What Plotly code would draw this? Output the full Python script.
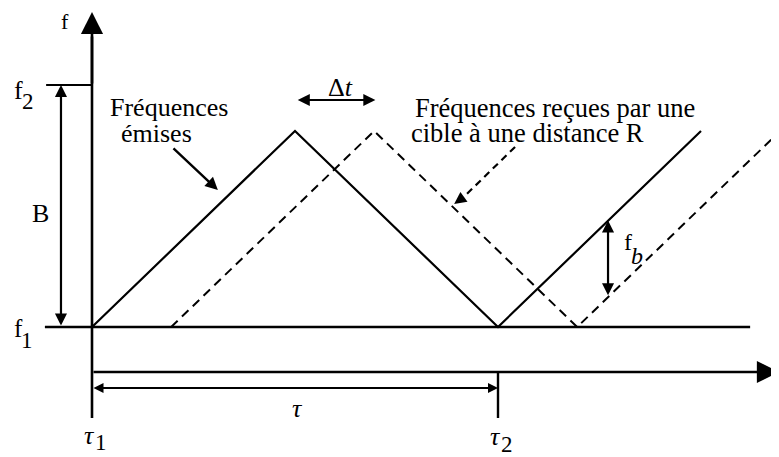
import plotly.graph_objects as go

# Units: time in periods (tau1 = 0, tau2 = 1), frequency normalised (f1 = 0, f2 = 1)
t_emit = [0.0, 0.5, 1.0, 1.5]
f_emit = [0.0, 0.81, 0.0, 0.81]

t_recv = [0.195, 0.695, 1.195, 1.695]
f_recv = [0.0, 0.81, 0.0, 0.81]

# beat frequency read at this instant, between the two ramps
t_beat = 1.271
f_beat = [0.44, 0.125]

# delay arrow between the two peaks
t_delta = [0.503, 0.698]
f_delta = 0.938

t_axis_y = -0.186
tau_arrow_y = -0.252
tick_bottom = -0.376
B_x = -0.0764

FONT = "'Liberation Serif', 'DejaVu Serif', serif"

# page body has an 8px margin, so the figure starts 8px in
PX_T, PX_F = 406, 242
X0, Y0 = 92, 327
OFF = 8

fig = go.Figure()

# emitted ramp (solid) and received ramp (dashed)
fig.add_trace(go.Scatter(x=t_emit, y=f_emit, mode='lines',
                         line=dict(color='black', width=2.2)))
fig.add_trace(go.Scatter(x=t_recv, y=f_recv, mode='lines',
                         line=dict(color='black', width=2, dash='9px,6px')))

# f1 baseline, f2 tick, tau2 tick, lower part of the f axis
fig.add_trace(go.Scatter(x=[-0.116, 1.621], y=[0, 0], mode='lines',
                         line=dict(color='black', width=2.4)))
fig.add_trace(go.Scatter(x=[-0.113, 0], y=[1, 1], mode='lines',
                         line=dict(color='black', width=2.2)))
fig.add_trace(go.Scatter(x=[1, 1], y=[t_axis_y, tick_bottom], mode='lines',
                         line=dict(color='black', width=2.4)))
fig.add_trace(go.Scatter(x=[0, 0], y=[1.2, tick_bottom], mode='lines',
                         line=dict(color='black', width=2.6)))

# dashed pointer to the received ramp
fig.add_trace(go.Scatter(x=[1.042, 0.905], y=[0.744, 0.52], mode='lines',
                         line=dict(color='black', width=2.2, dash='7px,5px')))

arrows = [
    # (tip_t, tip_f, tail_t, tail_f, both_ends, width, size)
    (0, 1.302, 0, 1.0, False, 2.6, 1.7),          # f axis
    (1.692, t_axis_y, 0, t_axis_y, False, 2.6, 1.7),  # t axis
    (1, tau_arrow_y, 0, tau_arrow_y, True, 2, 1.0),   # tau
    (B_x, 1, B_x, 0, True, 2.2, 1.1),              # B
    (t_delta[1], f_delta, t_delta[0], f_delta, True, 2.2, 1.1),  # delta t
    (t_beat, f_beat[0], t_beat, f_beat[1], True, 2.2, 1.1),      # f_b
    (0.310, 0.566, 0.197, 0.744, False, 2.4, 1.05),  # pointer to emitted
    (0.892, 0.508, 0.915, 0.536, False, 2.2, 1.1),   # head of dashed pointer
]

annotations = []
for tip_t, tip_f, tail_t, tail_f, both, w, s in arrows:
    annotations.append(dict(
        x=tip_t, y=tip_f, ax=tail_t, ay=tail_f,
        xref='x', yref='y', axref='x', ayref='y',
        text='', showarrow=True, arrowhead=2, startarrowhead=2,
        arrowside='end+start' if both else 'end',
        arrowwidth=w, arrowsize=s, startarrowsize=s,
        arrowcolor='black', standoff=0, startstandoff=0,
    ))

labels = [
    # (t, f, text, size, italic, xanchor)
    (-0.066, 1.262, 'f', 22, False, 'center'),
    (-0.182, 0.978, 'f', 26, False, 'center'),
    (-0.158, 0.930, '2', 23, False, 'center'),
    (-0.180, -0.005, 'f', 25, False, 'center'),
    (-0.160, -0.055, '1', 23, False, 'center'),
    (-0.128, 0.471, 'B', 26, False, 'center'),
    (-0.007, -0.450, 'τ', 26, True, 'center'),
    (0.023, -0.478, '1', 23, False, 'center'),
    (0.993, -0.452, 'τ', 26, True, 'center'),
    (1.023, -0.485, '2', 23, False, 'center'),
    (0.507, -0.335, 'τ', 26, True, 'center'),
    (0.611, 0.990, 'Δ<i>t</i>', 26, False, 'center'),
    (1.320, 0.350, 'f', 24, False, 'center'),
    (1.343, 0.292, 'b', 24, True, 'center'),
    (1.682, -0.30, 't', 24, False, 'left'),
    (0.189, 0.905, 'Fréquences', 26, False, 'center'),
    (0.158, 0.800, 'émises', 26, False, 'center'),
    (0.7906, 0.905, 'Fréquences reçues par une', 26.5, False, 'left'),
    (0.7808, 0.800, 'cible à une distance R', 26.5, False, 'left'),
]

for t, f, txt, size, italic, anchor in labels:
    annotations.append(dict(
        x=t, y=f, xref='x', yref='y', text=f'<i>{txt}</i>' if italic else txt,
        showarrow=False, xanchor=anchor, yanchor='middle',
        font=dict(family=FONT, size=size, color='black'),
    ))

fig.update_layout(
    width=779 - OFF, height=457 - OFF,
    margin=dict(l=0, r=0, t=0, b=0, pad=0),
    plot_bgcolor='white', paper_bgcolor='white',
    font=dict(family=FONT, color='black'),
    showlegend=False,
    xaxis=dict(range=[(OFF - X0) / PX_T, (779 - X0) / PX_T], visible=False, fixedrange=True),
    yaxis=dict(range=[(Y0 - 457) / PX_F, (Y0 - OFF) / PX_F], visible=False, fixedrange=True),
    annotations=annotations,
)

fig.write_html("out.html")
